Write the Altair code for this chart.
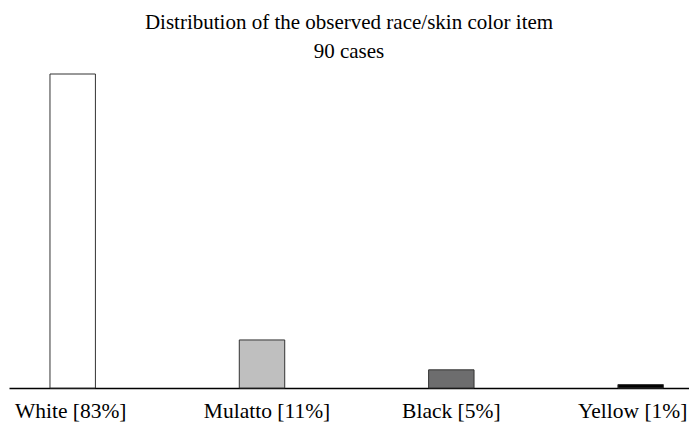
import altair as alt
import pandas as pd

categories = ["White [83%]", "Mulatto [11%]", "Black [5%]", "Yellow [1%]"]
values = [83, 12.7, 4.8, 0.9]
colors = ["#ffffff", "#bfbfbf", "#6d6d6e", "#000000"]

df = pd.DataFrame({"cat": categories, "val": values, "col": colors})

FONT = "Liberation Serif"

label_offset = {
    "condition": [
        {"test": f"datum.value === '{categories[0]}'", "value": -2},
        {"test": f"datum.value === '{categories[1]}'", "value": 5},
        {"test": f"datum.value === '{categories[3]}'", "value": -8},
    ],
    "value": 0,
}

chart = alt.Chart(df).mark_bar(stroke="#333333", strokeWidth=1).encode(
    x=alt.X("cat:N", sort=categories, title=None,
            scale=alt.Scale(paddingInner=0.76, paddingOuter=0.176, align=0.615),
            axis=alt.Axis(labelAngle=0, ticks=False, domainColor="#000000", domainWidth=1.5,
                          labelFont=FONT, labelFontSize=21.5, labelColor="#000000",
                          labelPadding=12, labelOffset=label_offset)),
    y=alt.Y("val:Q", title=None, scale=alt.Scale(domain=[0, 83], nice=False),
            axis=None),
    fill=alt.Fill("col:N", scale=None),
).properties(
    width=680, height=314,
    autosize=alt.AutoSizeParams(type="none"),
    padding={"left": 9, "top": 74, "right": 0, "bottom": 34},
    title=alt.TitleParams(
        text=["Distribution of the observed race/skin color item", "90 cases"],
        font=FONT, fontSize=21, fontWeight="normal", color="#000000",
        anchor="middle", lineHeight=29, offset=12,
    ),
).configure_view(stroke=None)

chart.save("out.html", embed_options={"renderer": "svg", "actions": False})
